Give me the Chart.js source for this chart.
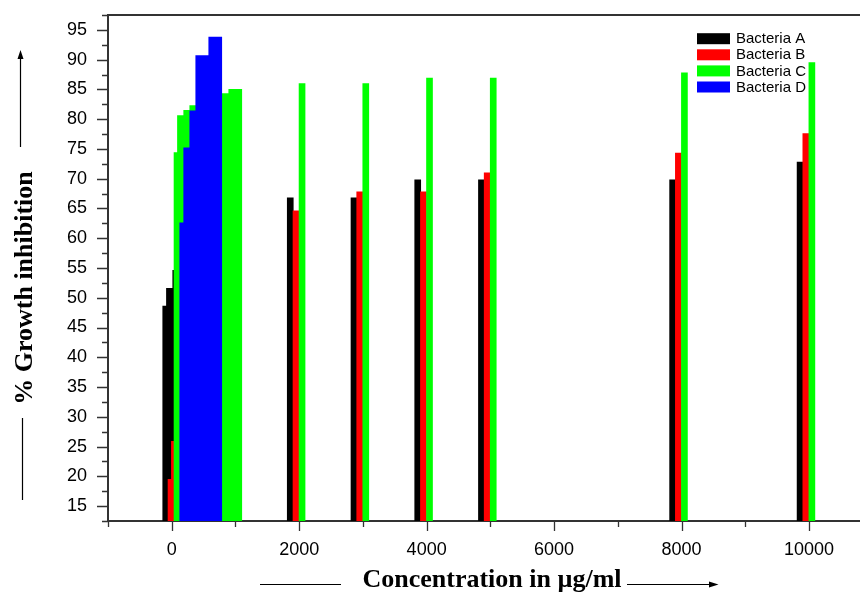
<!DOCTYPE html>
<html><head><meta charset="utf-8">
<script src="https://cdn.jsdelivr.net/npm/chart.js@4.4.1/dist/chart.umd.min.js"></script>
<style>html,body{margin:0;padding:0;background:#fff}canvas{display:block}</style>
</head><body>
<canvas id="c" width="860" height="601"></canvas>
<script>
// ---- data ----
const seriesNames = ['Bacteria A', 'Bacteria B', 'Bacteria C', 'Bacteria D'];
const highConc = [2000, 3000, 4000, 5000, 8000, 10000];
const highA = [66.8, 66.8, 69.8, 69.8, 69.8, 72.8];
const highB = [64.6, 67.8, 67.8, 71.0, 74.3, 77.6];
const highC = [86.0, 86.0, 86.9, 86.9, 87.8, 89.5];
// low-dose cluster (bar centres in µg/ml)
const lowAConc = [-39, 19, 118];
const lowA = [48.6, 51.6, 54.6];
const lowBConc = [44, 97];
const lowB = [19.5, 25.9];
const lowCConc = [138, 192, 290, 385, 887, 997];
const lowC = [74.4, 80.6, 81.5, 82.3, 84.3, 85.0];
const lowDConc = [228, 290, 385, 479, 683];
const lowD = [62.6, 75.2, 81.4, 90.7, 93.8];
const xTickValues = [-1000, 0, 1000, 2000, 3000, 4000, 5000, 6000, 7000, 8000, 9000, 10000];
const xTickLabels = [0, 2000, 4000, 6000, 8000, 10000];
const yTickLabels = [15, 20, 25, 30, 35, 40, 45, 50, 55, 60, 65, 70, 75, 80, 85, 90, 95];

// ---- styles ----
const seriesColors = ['#000000', '#ff0000', '#00ff00', '#0000ff'];
const groupShift = [-140, -50, 45, 0];   // side-by-side shift in data units
const drawOrder = [4, 3, 2, 1];

function makeSet(i, xs, ys, thick, shift) {
  return {
    label: seriesNames[i],
    data: xs.map((x, k) => ({x: x + shift, y: ys[k]})),
    backgroundColor: seriesColors[i],
    borderWidth: 0,
    barThickness: thick,
    grouped: false,
    order: drawOrder[i]
  };
}

const datasets = [
  makeSet(0, highConc, highA, 6, groupShift[0]),
  makeSet(1, highConc, highB, 6, groupShift[1]),
  makeSet(2, highConc, highC, 6, groupShift[2]),
  makeSet(3, lowDConc, lowD, 13, 0),
  makeSet(0, lowAConc, lowA, 13, 0),
  makeSet(1, lowBConc, lowB, 13, 0),
  makeSet(2, lowCConc, lowC, 13, 0)
];

const isMult = (v, m) => Math.abs(v / m - Math.round(v / m)) < 1e-6;

const decor = {
  id: 'decor',
  beforeDatasetsDraw(chart) {
    const ctx = chart.ctx;
    ctx.save();
    ctx.font = '15px "Liberation Sans", Arial, sans-serif';
    ctx.textBaseline = 'middle';
    ctx.textAlign = 'left';
    for (let i = 0; i < 4; i++) {
      const cy = 38.7 + i * 16.1;
      ctx.fillStyle = seriesColors[i];
      ctx.fillRect(697, cy - 5.5, 33, 11);
      ctx.fillStyle = '#000';
      ctx.fillText(seriesNames[i], 736, cy + 0.5);
    }
    ctx.restore();
  },
  afterDraw(chart) {
    const ctx = chart.ctx;
    const a = chart.chartArea;
    const xs = chart.scales.x, ys = chart.scales.y;
    ctx.save();
    ctx.strokeStyle = '#333';
    ctx.lineWidth = 2;
    ctx.beginPath();
    ctx.moveTo(a.left - 1, a.top);
    ctx.lineTo(a.right, a.top);
    ctx.stroke();
    // tick marks
    ctx.lineWidth = 1.3;
    ctx.beginPath();
    ys.ticks.forEach(t => {
      const y = Math.round(ys.getPixelForValue(t.value)) + 0.5;
      const len = isMult(t.value, 5) ? 11 : 6;
      ctx.moveTo(a.left, y);
      ctx.lineTo(a.left - len, y);
    });
    xs.ticks.forEach(t => {
      const x = Math.round(xs.getPixelForValue(t.value)) + 0.5;
      const len = xTickLabels.includes(t.value) ? 10 : 6;
      ctx.moveTo(x, a.bottom);
      ctx.lineTo(x, a.bottom + len);
    });
    ctx.stroke();
    // axis titles
    ctx.fillStyle = '#000';
    ctx.font = 'bold 26px "Liberation Serif", "Times New Roman", serif';
    ctx.textAlign = 'center';
    ctx.textBaseline = 'alphabetic';
    ctx.fillText('Concentration in \u00b5g/ml', 492, 587);
    ctx.save();
    ctx.translate(31.5, 288);
    ctx.rotate(-Math.PI / 2);
    ctx.fillText('% Growth inhibition', 0, 0);
    ctx.restore();
    // arrows
    ctx.strokeStyle = '#000';
    ctx.lineWidth = 1.2;
    ctx.beginPath();
    ctx.moveTo(260, 584.5); ctx.lineTo(341, 584.5);
    ctx.moveTo(627, 584.5); ctx.lineTo(712, 584.5);
    ctx.moveTo(22.5, 418); ctx.lineTo(22.5, 500);
    ctx.moveTo(20.5, 147); ctx.lineTo(20.5, 56);
    ctx.stroke();
    ctx.beginPath();
    ctx.moveTo(718.5, 584.5); ctx.lineTo(709, 581.5); ctx.lineTo(709, 587.5); ctx.closePath();
    ctx.moveTo(20.5, 50); ctx.lineTo(17.5, 59); ctx.lineTo(23.5, 59); ctx.closePath();
    ctx.fillStyle = '#000';
    ctx.fill();
    ctx.restore();
  }
};

new Chart(document.getElementById('c'), {
  type: 'bar',
  data: {datasets},
  options: {
    responsive: false,
    animation: false,
    events: [],
    layout: {padding: {top: 15, right: 0, left: 0, bottom: 0}},
    plugins: {legend: {display: false}, tooltip: {enabled: false}},
    scales: {
      x: {
        type: 'linear',
        min: -1000, max: 10800,
        offset: false,
        z: 1,
        grid: {display: false, drawTicks: false, offset: false},
        border: {display: true, color: '#333', width: 2},
        afterBuildTicks(s) { s.ticks = xTickValues.map(v => ({value: v})); },
        afterFit(s) { s.height = 80; s.paddingLeft = 0; s.paddingRight = 0; },
        ticks: {
          autoSkip: false, maxRotation: 0, minRotation: 0, padding: 18,
          color: '#000',
          font: {family: '"Liberation Sans", Arial, sans-serif', size: 18},
          callback: v => xTickLabels.includes(v) ? String(v) : ''
        }
      },
      y: {
        type: 'linear',
        min: 12.5, max: 97.5,
        z: 1,
        grid: {display: false, drawTicks: false},
        border: {display: true, color: '#333', width: 2},
        afterFit(s) { s.width = 108; s.paddingTop = 0; s.paddingBottom = 0; },
        ticks: {
          stepSize: 2.5, maxTicksLimit: 100, autoSkip: false, padding: 21,
          color: '#000',
          font: {family: '"Liberation Sans", Arial, sans-serif', size: 18},
          callback: v => yTickLabels.some(t => Math.abs(t - v) < 1e-6) ? String(Math.round(v)) : ''
        }
      }
    }
  },
  plugins: [decor]
});
</script>
</body></html>
